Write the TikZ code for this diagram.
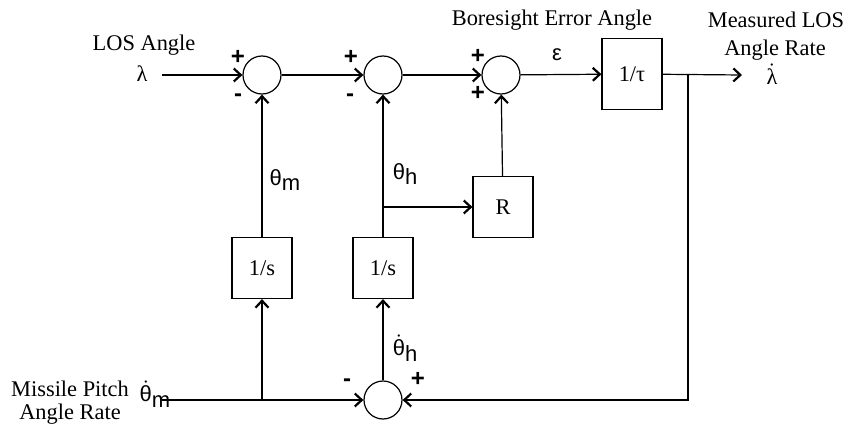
\documentclass[tikz,border=0pt]{standalone}
\usepackage{fontspec}
\setmainfont{Liberation Serif}
\setsansfont{Liberation Sans}
\usetikzlibrary{arrows.meta}

\newcommand{\sgn}[1]{{\sffamily\bfseries\fontsize{12}{12}\selectfont #1}}
\newcommand{\sym}[2]{{\sffamily\fontsize{11}{11}\selectfont #1\raisebox{-0.45ex}{#2}}}
\newcommand{\dsym}[2]{{\sffamily\fontsize{11}{11}\selectfont $\dot{\mbox{#1}}$\raisebox{-0.45ex}{#2}}}

\tikzset{
  sumnode/.style={circle, draw, minimum size=19pt, inner sep=0pt},
  blk/.style={draw, minimum width=30pt, minimum height=30.5pt, inner sep=0pt},
  sig/.style={-{Straight Barb[length=3.5pt, width=6.5pt, line width=1.1pt]}},
  txt/.style={font=\fontsize{11.2}{13}\selectfont, inner sep=0pt}
}

\begin{document}
\begin{tikzpicture}[x=0.5pt, y=-0.5pt, line width=0.6pt]
  \useasboundingbox (0,0) rectangle (848,428);
  % Nodes
  \node[sumnode] (s1) at (262, 75) {};
  \node[sumnode] (s2) at (383, 75) {};
  \node[sumnode] (s3) at (501, 75) {};
  \node[sumnode] (s4) at (383, 400) {};
  \node[blk, minimum height=35.5pt, txt] (tau) at (632, 74) {1/τ};
  \node[blk, txt] (int1) at (262, 268) {1/s};
  \node[blk, txt] (int2) at (383, 268) {1/s};
  \node[blk, txt] (R) at (503, 207) {R};

  \coordinate (lam) at (162, 75);
  \coordinate (out) at (742, 75);
  \coordinate (fb) at (688, 75);
  \coordinate (fbd) at (688, 400);
  \coordinate (rate) at (162, 400);
  \coordinate (split) at (262, 400);
  \coordinate (tap) at (383, 207);

  % Labels
  \node[txt] at (144, 45) {LOS Angle};
  \node[txt] at (142, 74) {λ};
  \node[txt] at (552, 20) {Boresight Error Angle};
  \node[txt] at (776, 20) {Measured LOS};
  \node[txt] at (775, 50) {Angle Rate};
  \node[txt] at (772, 74) {$\dot{\mbox{λ}}$};
  \node[txt] at (70, 389) {Missile Pitch};
  \node[txt] at (70, 414) {Angle Rate};
  \node[inner sep=0pt] at (557, 55) {\sffamily\fontsize{11}{11}\selectfont ε};
  \node[inner sep=0pt] at (285, 180) {\sym{θ}{m}};
  \node[inner sep=0pt] at (405, 174) {\sym{θ}{h}};
  \node[inner sep=0pt] at (155, 394) {\dsym{θ}{m}};
  \node[inner sep=0pt] at (405, 348) {\dsym{θ}{h}};

  % Signs
  \node at (238, 57) {\sgn{+}};
  \node at (238, 98) {\sgn{-}};
  \node at (351, 57) {\sgn{+}};
  \node at (350, 98) {\sgn{-}};
  \node at (478, 56) {\sgn{+}};
  \node at (478, 93) {\sgn{+}};
  \node at (347, 383) {\sgn{-}};
  \node at (418, 379) {\sgn{+}};

  % Edges
  \draw[sig] (lam) -- (s1);
  \draw[sig] (s1) -- (s2);
  \draw[sig] (s2) -- (s3);
  \draw[sig] (s3) -- (tau);
  \draw[sig] (tau) -- (out);
  \draw[sig] (fb) -- (fbd) -- (s4);
  \draw[sig] (rate) -- (s4);
  \draw[sig] (split) -- (int1);
  \draw[sig] (int1) -- (s1);
  \draw[sig] (s4) -- (int2);
  \draw[sig] (int2) -- (s2);
  \draw[sig] (tap) -- (R);
  \draw[sig] (R) -- (s3);
\end{tikzpicture}
\end{document}
